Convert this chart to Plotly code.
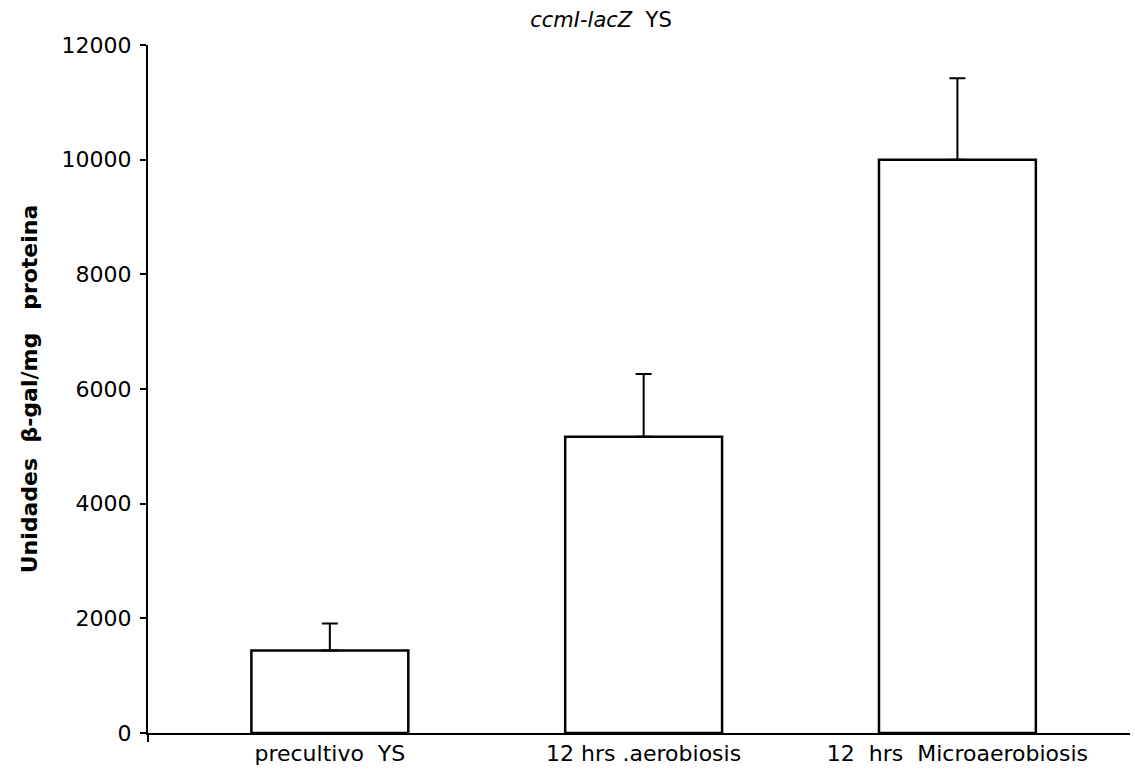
import plotly.graph_objects as go

categories = ["precultivo\u00a0 YS", "12 hrs .aerobiosis", "12\u00a0 hrs\u00a0 Microaerobiosis"]
values = [1440, 5165, 10000]
errors = [470, 1095, 1420]
y_ticks = [0, 2000, 4000, 6000, 8000, 10000, 12000]

FONT = "DejaVu Sans, Liberation Sans, Arial, sans-serif"

fig = go.Figure()
fig.add_trace(go.Bar(
    x=[0, 1, 2], y=values, width=0.5,
    marker=dict(color="white", line=dict(color="black", width=2.5)),
    error_y=dict(type="data", array=errors, symmetric=False, visible=True,
                 color="black", thickness=2, width=8),
))

# small downward extension of the y axis below the baseline, as in the original
fig.add_shape(type="line", xref="paper", yref="paper", x0=0, x1=0, y0=0, y1=-0.013,
              line=dict(color="black", width=2))

fig.update_layout(
    width=1135, height=783,
    margin=dict(l=148, r=5, t=45, b=50),
    paper_bgcolor="white", plot_bgcolor="white",
    showlegend=False,
    font=dict(family=FONT, color="black"),
    title=dict(
        text="<i>ccmI-lacZ</i>\u00a0 YS",
        x=601 / 1135, xanchor="center", y=1 - 20 / 783, yanchor="middle",
        font=dict(size=21, color="black"),
    ),
    xaxis=dict(
        range=[-0.5795, 2.55],
        tickvals=[0, 1, 2], ticktext=categories,
        showline=True, linecolor="black", linewidth=2,
        ticks="", showgrid=False, zeroline=False,
        tickfont=dict(size=22), ticklabelstandoff=0,
    ),
    yaxis=dict(
        range=[0, 12000],
        tickvals=y_ticks, ticktext=[str(v) for v in y_ticks],
        showline=True, linecolor="black", linewidth=2,
        ticks="outside", ticklen=6, tickwidth=2, tickcolor="black",
        showgrid=False, zeroline=False,
        tickfont=dict(size=22), ticklabelstandoff=4,
        title=dict(text="<b>Unidades\u00a0 β-gal/mg\u00a0\u00a0 proteina</b>",
                   font=dict(size=22), standoff=18),
    ),
)

fig.write_html("out.html")
